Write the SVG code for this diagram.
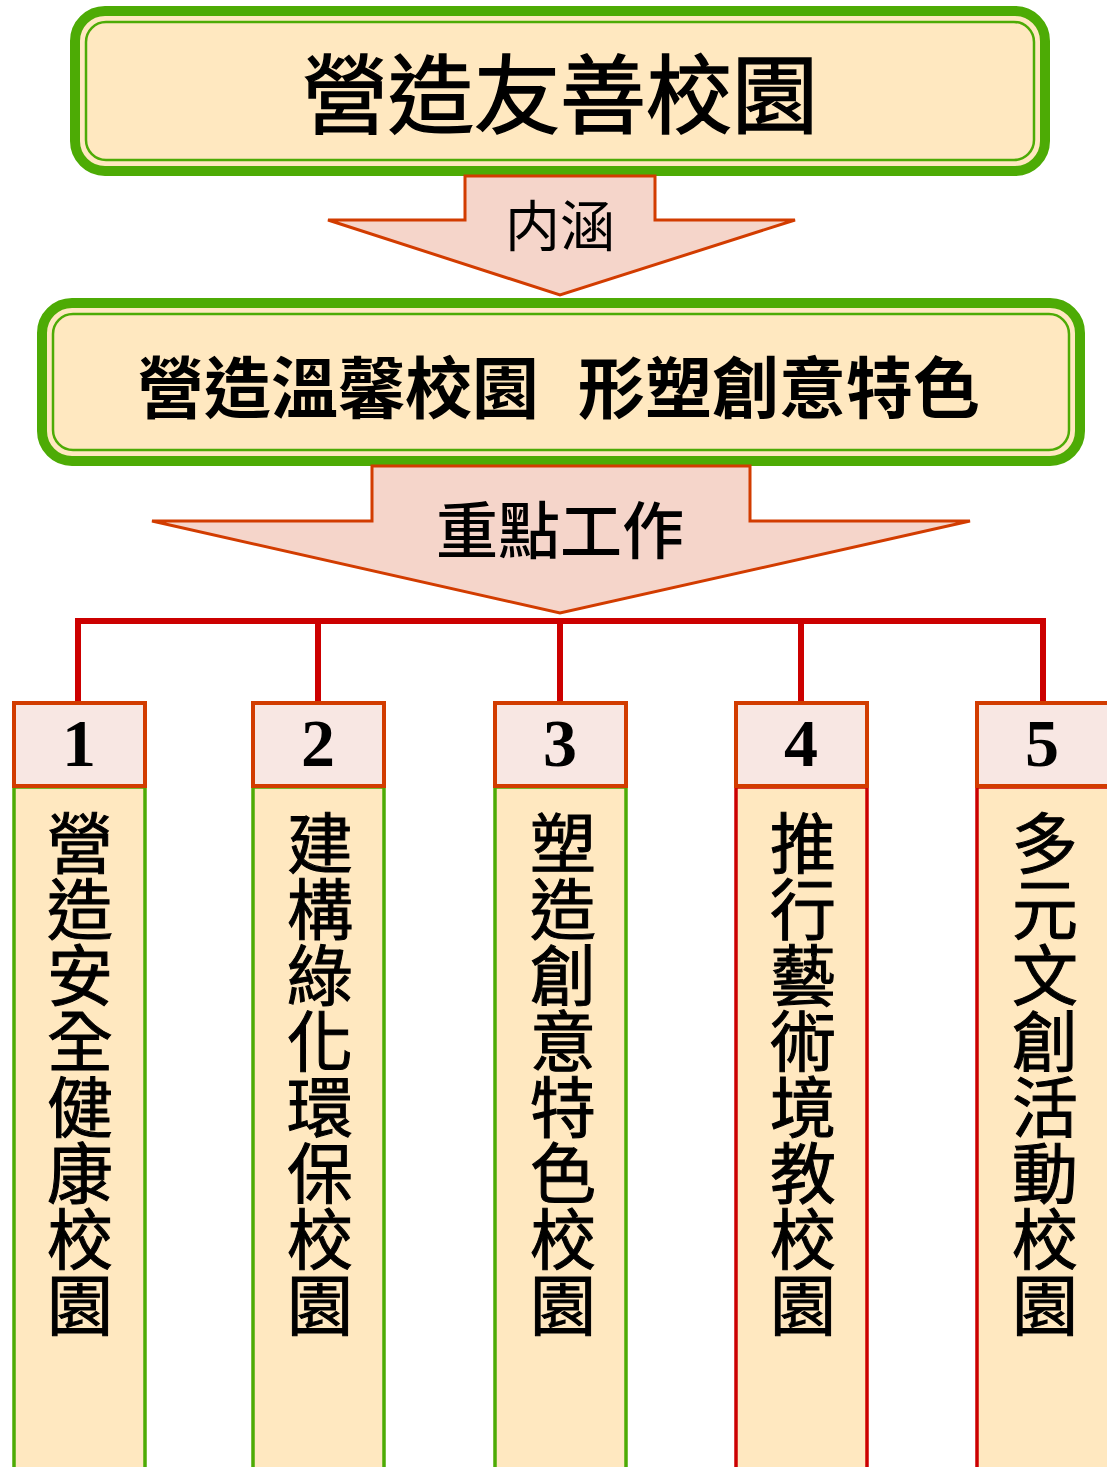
<svg xmlns="http://www.w3.org/2000/svg" width="1107" height="1467" viewBox="0 0 1107 1467">
<style>
.cjk{font-family:"Noto Sans CJK TC","Noto Sans CJK JP",sans-serif;fill:#000}
.outer{fill:#ffe8c0;stroke:#4dab05;stroke-width:10}
.inner{fill:none;stroke:#4dab05;stroke-width:2.5}
.arrow{fill:#f5d5ca;stroke:#d23c00;stroke-width:3;stroke-linejoin:miter}
.num{fill:#f8e7e3;stroke:#d23c00;stroke-width:4}
.colg{fill:#ffe8c0;stroke:#4dab05;stroke-width:3.5}
.colr{fill:#ffe8c0;stroke:#cc0000;stroke-width:3.5}
.digit{font-family:"Liberation Serif",serif;font-weight:bold;font-size:68px;text-anchor:middle;fill:#000}
.vt{font-size:66px;font-weight:400;writing-mode:vertical-rl;text-orientation:upright;text-anchor:start;stroke:#000;stroke-width:1}
.conn{fill:none;stroke:#cc0000;stroke-width:6}
</style>
<rect width="1107" height="1467" fill="#fff"/>
<g id="title">
<rect class="outer" x="75" y="11" width="970" height="160" rx="30"/>
<rect class="inner" x="86" y="22" width="948" height="138" rx="20"/>
<text class="cjk" x="560" y="127" font-size="86" font-weight="400" stroke="#000" stroke-width="1.5" text-anchor="middle">營造友善校園</text>
</g>
<g id="arrow1">
<polygon class="arrow" points="465,176 655,176 655,220 795,220 560,295 328,220 465,220"/>
<text class="cjk" x="560" y="246" font-size="55" font-weight="400" text-anchor="middle">内涵</text>
</g>
<g id="goal">
<rect class="outer" x="42" y="303" width="1038" height="158" rx="30"/>
<rect class="inner" x="53" y="314" width="1016" height="136" rx="20"/>
<text class="cjk" x="137" y="413" font-size="67" font-weight="700">營造溫馨校園</text>
<text class="cjk" x="578" y="413" font-size="67" font-weight="700">形塑創意特色</text>
</g>
<g id="arrow2">
<polygon class="arrow" points="372,466 750,466 750,521 970,521 560,613 152,521 372,521"/>
<text class="cjk" x="560" y="554" font-size="62" font-weight="500" text-anchor="middle">重點工作</text>
</g>
<g id="connectors">
<path class="conn" d="M78,702 V621 H1043 V702 M318,621 V702 M560,621 V702 M801,621 V702"/>
</g>
<g id="item1">
<rect class="colg" x="14" y="787" width="131" height="700"/>
<rect class="num" x="14" y="703" width="131" height="83"/>
<text class="digit" x="79" y="766">1</text>
<text class="cjk vt" x="80" y="810">營造安全健康校園</text>
</g>
<g id="item2">
<rect class="colg" x="253" y="787" width="131" height="700"/>
<rect class="num" x="253" y="703" width="131" height="83"/>
<text class="digit" x="318" y="766">2</text>
<text class="cjk vt" x="320" y="810">建構綠化環保校園</text>
</g>
<g id="item3">
<rect class="colg" x="495" y="787" width="131" height="700"/>
<rect class="num" x="495" y="703" width="131" height="83"/>
<text class="digit" x="560" y="766">3</text>
<text class="cjk vt" x="563" y="810">塑造創意特色校園</text>
</g>
<g id="item4">
<rect class="colr" x="736" y="787" width="131" height="700"/>
<rect class="num" x="736" y="703" width="131" height="83"/>
<text class="digit" x="801" y="766">4</text>
<text class="cjk vt" x="803" y="810">推行藝術境教校園</text>
</g>
<g id="item5">
<rect class="colr" x="977" y="787" width="140" height="700"/>
<rect class="num" x="977" y="703" width="140" height="83"/>
<text class="digit" x="1042" y="766">5</text>
<text class="cjk vt" x="1045" y="810">多元文創活動校園</text>
</g>
</svg>
